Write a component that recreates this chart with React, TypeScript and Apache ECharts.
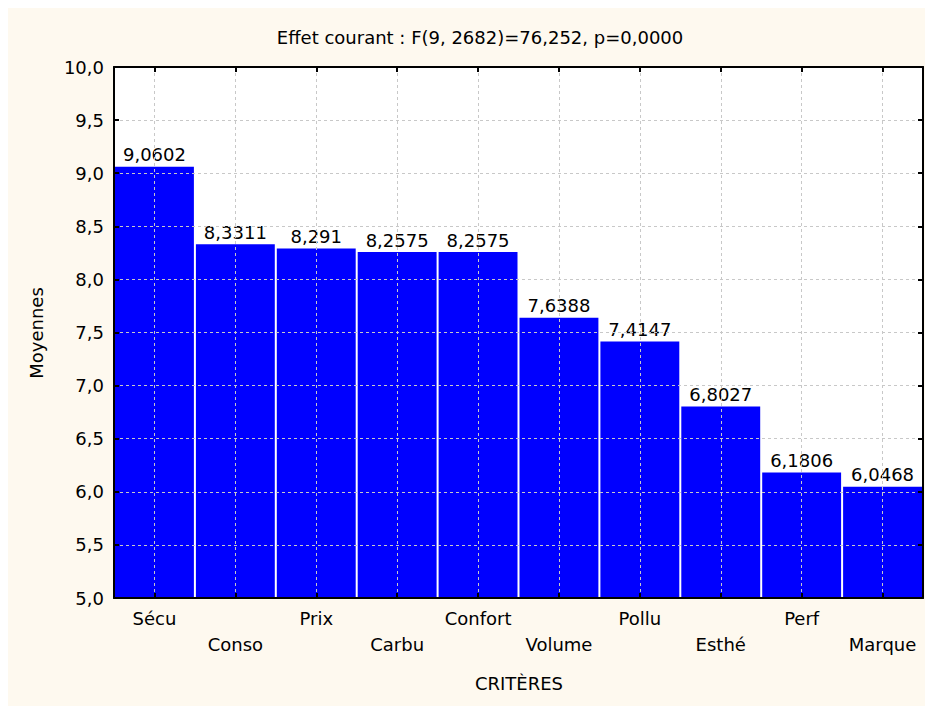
import React, { useEffect, useRef } from "react";
import * as echarts from "echarts";

const categories = ["Sécu", "Conso", "Prix", "Carbu", "Confort", "Volume", "Pollu", "Esthé", "Perf", "Marque"];
const means = [9.0602, 8.3311, 8.291, 8.2575, 8.2575, 7.6388, 7.4147, 6.8027, 6.1806, 6.0468];
const titleText = "Effet courant : F(9, 2682)=76,252, p=0,0000";
const yName = "Moyennes";
const xName = "CRITÈRES";

const FONT = "DejaVu Sans";

export default function App() {
  const ref = useRef<HTMLDivElement>(null);
  useEffect(() => {
    document.documentElement.style.overflow = "hidden";
    document.body.style.overflow = "hidden";
    const chart = echarts.init(ref.current!, null, { renderer: "svg" });
    const axisLine = { show: true, lineStyle: { color: "#000", width: 2 } };
    const tick = { show: true, inside: true, length: 5, lineStyle: { color: "#000", width: 2 } };
    const grid = { left: 106, top: 59, right: 10, bottom: 108 };
    chart.setOption({
      animation: false,
      backgroundColor: "#FEF9EF",
      textStyle: { fontFamily: FONT },
      grid: { ...grid, show: true, backgroundColor: "#fff", borderWidth: 0 },
      graphic: [
        {
          type: "text",
          x: 472,
          y: 29,
          style: { text: titleText, fontFamily: FONT, fontSize: 18, fill: "#000", textAlign: "center", textVerticalAlign: "middle" },
        },
        {
          type: "text",
          x: 28,
          y: 325,
          rotation: Math.PI / 2,
          style: { text: yName, fontFamily: FONT, fontSize: 18, fill: "#000", textAlign: "center", textVerticalAlign: "middle" },
        },
        {
          type: "text",
          x: 511,
          y: 675,
          style: { text: xName, fontFamily: FONT, fontSize: 18, fill: "#000", textAlign: "center", textVerticalAlign: "middle" },
        },
      ],
      xAxis: [
        {
          type: "category",
          data: categories,
          position: "bottom",
          axisLine,
          axisTick: { ...tick, alignWithLabel: true },
          axisLabel: {
            interval: 0,
            margin: 7,
            color: "#000",
            fontFamily: FONT,
            fontSize: 18,
            lineHeight: 26,
            formatter: (v: string, i: number) => (i % 2 ? "\n" + v : v),
          },
          splitLine: { show: true, alignWithLabel: true, lineStyle: { color: "#c8c8c8", type: [3, 3], width: 1 } },
          z: 5,
        },
        {
          type: "category",
          data: categories,
          position: "top",
          axisLine,
          axisTick: { ...tick, alignWithLabel: true },
          axisLabel: { show: false },
          splitLine: { show: false },
          z: 5,
        },
      ],
      yAxis: [
        {
          type: "value",
          min: 5,
          max: 10,
          interval: 0.5,
          position: "left",
          axisLine,
          axisTick: tick,
          axisLabel: {
            margin: 10,
            color: "#000",
            fontFamily: FONT,
            fontSize: 18,
            formatter: (v: number) => v.toFixed(1).replace(".", ","),
          },
          splitLine: { show: true, lineStyle: { color: "#c8c8c8", type: [3, 3], width: 1 } },
          z: 5,
        },
        {
          type: "value",
          min: 5,
          max: 10,
          interval: 0.5,
          position: "right",
          axisLine,
          axisTick: tick,
          axisLabel: { show: false },
          splitLine: { show: false },
          z: 5,
        },
      ],
      series: [
        {
          type: "bar",
          data: means,
          xAxisIndex: 0,
          yAxisIndex: 0,
          barCategoryGap: 2,
          itemStyle: { color: "#0000FF" },
          label: {
            show: true,
            position: "top",
            distance: 3,
            color: "#000",
            fontFamily: FONT,
            fontSize: 18,
            formatter: (p: any) => String(p.value).replace(".", ","),
          },
        },
      ],
    });
    return () => chart.dispose();
  }, []);
  return <div ref={ref} style={{ width: 925, height: 698 }} />;
}
